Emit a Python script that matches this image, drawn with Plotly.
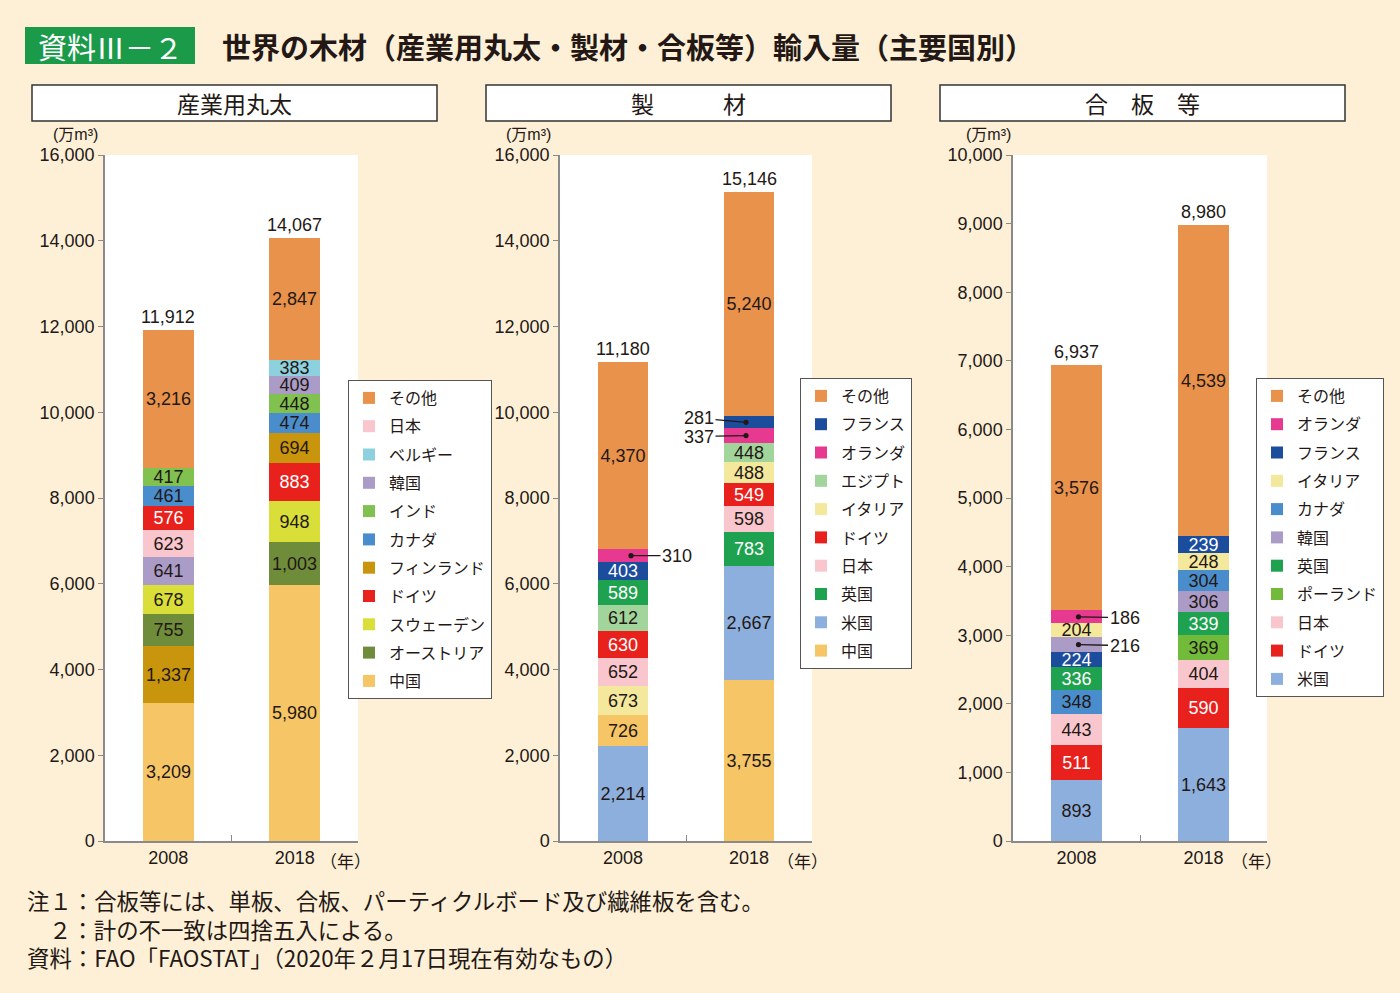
import plotly.graph_objects as go

# ---------------- data ----------------
years = ["2008", "2018"]

# 産業用丸太 (bottom -> top)
log_2008_names = ["中国", "フィンランド", "オーストリア", "スウェーデン", "韓国", "日本", "ドイツ", "カナダ", "インド", "その他"]
log_2008_vals = [3209, 1337, 755, 678, 641, 623, 576, 461, 417, 3216]
log_2018_names = ["中国", "オーストリア", "スウェーデン", "ドイツ", "フィンランド", "カナダ", "インド", "韓国", "ベルギー", "その他"]
log_2018_vals = [5980, 1003, 948, 883, 694, 474, 448, 409, 383, 2847]
log_totals = [11912, 14067]
log_legend = ["その他", "日本", "ベルギー", "韓国", "インド", "カナダ", "フィンランド", "ドイツ", "スウェーデン", "オーストリア", "中国"]

# 製材
lum_2008_names = ["米国", "中国", "イタリア", "日本", "ドイツ", "エジプト", "英国", "フランス", "オランダ", "その他"]
lum_2008_vals = [2214, 726, 673, 652, 630, 612, 589, 403, 310, 4370]
lum_2018_names = ["中国", "米国", "英国", "日本", "ドイツ", "イタリア", "エジプト", "オランダ", "フランス", "その他"]
lum_2018_vals = [3755, 2667, 783, 598, 549, 488, 448, 337, 281, 5240]
lum_totals = [11180, 15146]
lum_legend = ["その他", "フランス", "オランダ", "エジプト", "イタリア", "ドイツ", "日本", "英国", "米国", "中国"]

# 合板等
ply_2008_names = ["米国", "ドイツ", "日本", "カナダ", "英国", "フランス", "韓国", "イタリア", "オランダ", "その他"]
ply_2008_vals = [893, 511, 443, 348, 336, 224, 216, 204, 186, 3576]
ply_2018_names = ["米国", "ドイツ", "日本", "ポーランド", "英国", "韓国", "カナダ", "イタリア", "フランス", "その他"]
ply_2018_vals = [1643, 590, 404, 369, 339, 306, 304, 248, 239, 4539]
ply_totals = [6937, 8980]
ply_legend = ["その他", "オランダ", "フランス", "イタリア", "カナダ", "韓国", "英国", "ポーランド", "日本", "ドイツ", "米国"]

panel_titles = ["産業用丸太", "製　　　材", "合　板　等"]

colors = {
    "その他": "#E9924B",
    "日本": "#F8C6CC",
    "ベルギー": "#8ED1DE",
    "韓国": "#AA9CC7",
    "インド": "#80C150",
    "カナダ": "#4A8DCC",
    "フィンランド": "#C8950C",
    "ドイツ": "#E8211D",
    "スウェーデン": "#D9DF38",
    "オーストリア": "#6F8C3B",
    "中国": "#F6C565",
    "フランス": "#1C4D9D",
    "オランダ": "#E6398F",
    "エジプト": "#A1D59B",
    "イタリア": "#F4E89C",
    "英国": "#1FA24F",
    "米国": "#8CAFDD",
    "ポーランド": "#72BB3A",
}
white_text = {"ドイツ", "英国", "フランス"}

# ---------------- layout helpers ----------------
W, H = 1400, 993
def fx(px):
    return px / W
def fy(py):
    return 1 - py / H

INK = "#231815"
BASE_FONT = "Liberation Sans, Noto Sans CJK JP, sans-serif"
JP_FONT = "Noto Sans CJK JP, sans-serif"

panels = [
    dict(key="", names=[log_2008_names, log_2018_names], vals=[log_2008_vals, log_2018_vals],
         totals=log_totals, legend=log_legend, ymax=16000, dtick=2000,
         xdom=(105, 358), leg=(348, 380), header=(32, 437), unit_x=75, year_x=345,
         leaders={}),
    dict(key="2", names=[lum_2008_names, lum_2018_names], vals=[lum_2008_vals, lum_2018_vals],
         totals=lum_totals, legend=lum_legend, ymax=16000, dtick=2000,
         xdom=(560, 812), leg=(800, 378), header=(486, 891), unit_x=528, year_x=802,
         leaders={(0, "オランダ"): (46, 0, 8), (1, "フランス"): (-47, -4, -3), (1, "オランダ"): (-47, 1, -3)}),
    dict(key="3", names=[ply_2008_names, ply_2018_names], vals=[ply_2008_vals, ply_2018_vals],
         totals=ply_totals, legend=ply_legend, ymax=10000, dtick=1000,
         xdom=(1013, 1267), leg=(1256, 378), header=(940, 1345), unit_x=988, year_x=1256,
         leaders={(0, "オランダ"): (46, 1, 2), (0, "韓国"): (46, 1, 2)}),
]

fig = go.Figure()
annotations = []
shapes = []

YTOP, YBOT = 155, 841

def paper_text(x, y, text, size, color=INK, family=JP_FONT, xanchor="center"):
    return dict(x=fx(x), y=fy(y), xref="paper", yref="paper", text=text, showarrow=False,
                xanchor=xanchor, yanchor="middle",
                font=dict(size=size, color=color, family=family))

for pi, p in enumerate(panels):
    k = p["key"]
    xa, ya = "x" + k, "y" + k
    lg = "legend" + k
    shown = set()
    for yi, yr in enumerate(years):
        cum = 0
        for name, v in zip(p["names"][yi], p["vals"][yi]):
            leader = p["leaders"].get((yi, name))
            txt = "" if leader else f"{v:,}"
            fig.add_trace(go.Bar(
                x=[yr], y=[v], xaxis=xa, yaxis=ya,
                name=name, legend=lg, legendgroup=f"p{pi}_{name}",
                showlegend=name not in shown,
                legendrank=p["legend"].index(name) + 1,
                marker=dict(color=colors[name], line=dict(width=0)),
                width=0.4,
                text=[txt], textposition="inside", insidetextanchor="middle",
                textangle=0,
                textfont=dict(size=18, color="white" if name in white_text else INK, family=BASE_FONT),
                hoverinfo="skip",
            ))
            shown.add(name)
            if leader:
                ax, ay, xs = leader
                annotations.append(dict(
                    x=yi, y=cum + v / 2, xref=xa, yref=ya, text=f"{v:,}",
                    showarrow=True, arrowhead=6, arrowsize=1.0, arrowwidth=1.3,
                    arrowcolor=INK, ax=ax, ay=ay, xshift=xs,
                    font=dict(size=18, color=INK, family=BASE_FONT),
                ))
            cum += v
        annotations.append(dict(
            x=yi, y=p["totals"][yi], xref=xa, yref=ya, text=f"{p['totals'][yi]:,}",
            showarrow=False, xanchor="center", yanchor="bottom", yshift=1,
            font=dict(size=18, color=INK, family=BASE_FONT),
        ))

    xname = "xaxis" + k
    yname = "yaxis" + k
    fig.layout[xname] = dict(
        domain=[fx(p["xdom"][0]), fx(p["xdom"][1])], anchor=ya, type="category",
        categoryorder="array", categoryarray=years, range=[-0.5, 1.5],
        showline=True, linecolor="#8a8a8a", linewidth=1.5,
        ticks="inside", tickson="boundaries", ticklen=6, tickcolor="#8a8a8a",
        tickfont=dict(size=18, color=INK, family=BASE_FONT),
        showgrid=False, zeroline=False, fixedrange=True, automargin=False,
    )
    fig.layout[yname] = dict(
        domain=[fy(YBOT), fy(YTOP)], anchor=xa, range=[0, p["ymax"]], dtick=p["dtick"],
        tickformat=",", showline=True, linecolor="#8a8a8a", linewidth=1.5,
        ticks="outside", ticklen=5, tickcolor="#8a8a8a",
        tickfont=dict(size=18, color=INK, family=BASE_FONT),
        showgrid=False, zeroline=False, fixedrange=True, automargin=False,
    )
    fig.layout[lg] = dict(
        x=fx(p["leg"][0]), y=fy(p["leg"][1]), xanchor="left", yanchor="top",
        bgcolor="white", bordercolor="#555", borderwidth=1,
        font=dict(size=16, color=INK, family=JP_FONT),
        traceorder="grouped", tracegroupgap=4.5, itemclick=False, itemdoubleclick=False,
    )

    # header box
    hx0, hx1 = p["header"]
    shapes.append(dict(type="rect", xref="paper", yref="paper",
                       x0=fx(hx0), x1=fx(hx1), y0=fy(121), y1=fy(85),
                       fillcolor="white", line=dict(color="#333", width=1.5)))
    annotations.append(paper_text((hx0 + hx1) / 2, 103, panel_titles[pi], 23))
    # unit label
    annotations.append(paper_text(p["unit_x"], 135, "(万m³)", 16, family=BASE_FONT))
    # year unit
    annotations.append(paper_text(p["year_x"], 860, "（年）", 17))

# title
shapes.append(dict(type="rect", xref="paper", yref="paper", x0=fx(25), x1=fx(195),
                   y0=fy(64), y1=fy(27), fillcolor="#1B9A4A", line=dict(width=0)))
annotations.append(paper_text(111, 46, "資料Ⅲ－２", 29, color="white"))
annotations.append(paper_text(220, 46, "<b>世界の木材（産業用丸太・製材・合板等）輸入量（主要国別）</b>",
                              29, xanchor="left"))

# notes
notes = [
    (25, 900, "注１：合板等には、単板、合板、パーティクルボード及び繊維板を含む。"),
    (47, 929, "２：計の不一致は四捨五入による。"),
    (25, 957, "資料：FAO「FAOSTAT」（2020年２月17日現在有効なもの）"),
]
for x, y, t in notes:
    annotations.append(paper_text(x, y, t, 22.4, xanchor="left"))

fig.update_layout(
    width=W, height=H, autosize=False,
    margin=dict(l=0, r=0, t=0, b=0, autoexpand=False),
    paper_bgcolor="#FDF0D7", plot_bgcolor="white",
    barmode="stack", bargap=0,
    uniformtext=dict(minsize=18, mode="show"),
    annotations=annotations, shapes=shapes,
    font=dict(family=BASE_FONT, color=INK),
)

fig.write_html("out.html", config={"displayModeBar": False},
               post_script="document.body.style.margin='0';document.body.style.overflow='hidden';")
